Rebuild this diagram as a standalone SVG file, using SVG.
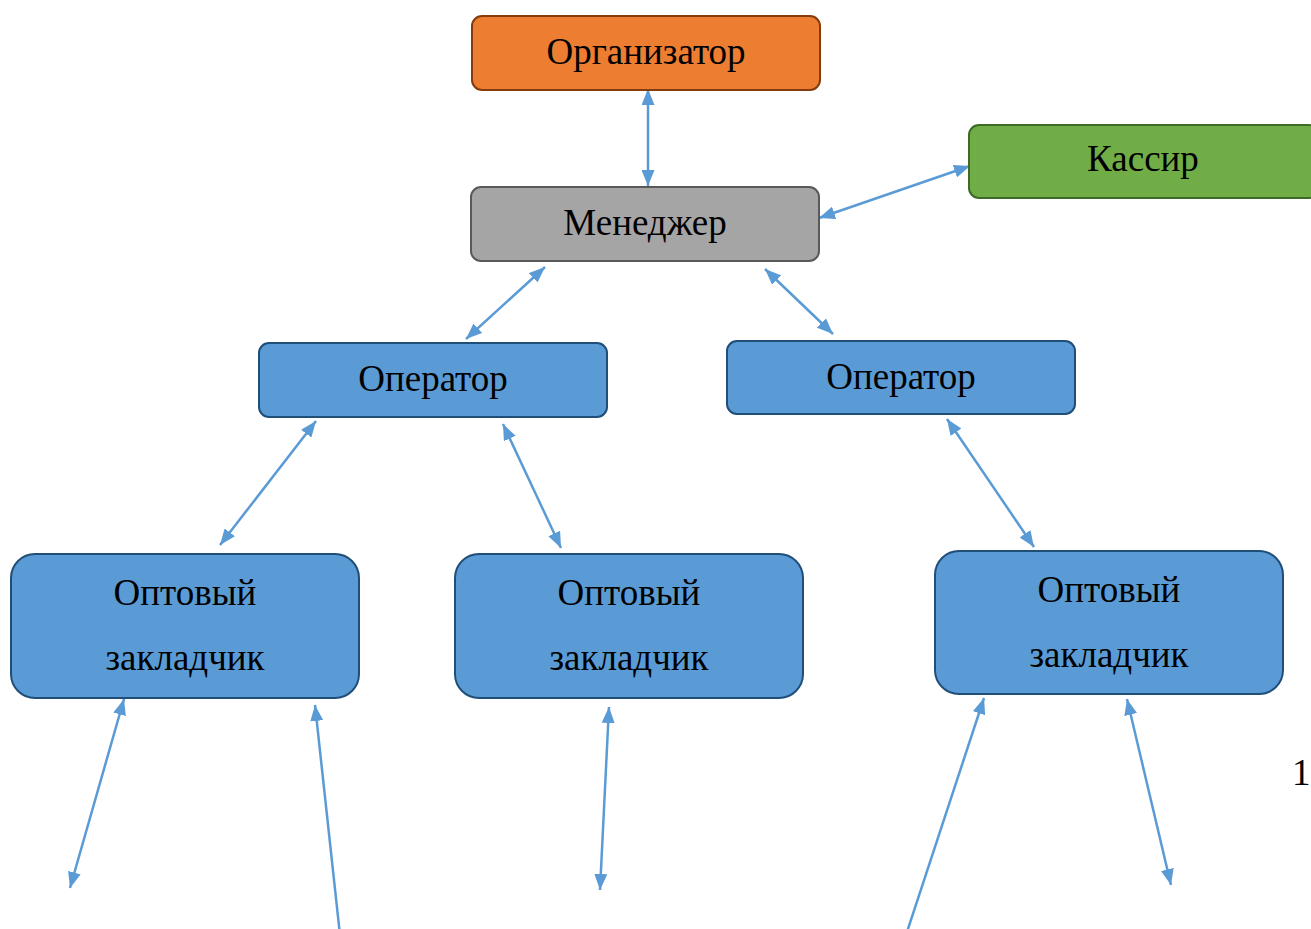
<svg xmlns="http://www.w3.org/2000/svg" width="1311" height="929" viewBox="0 0 1311 929">
<style>
text{font-family:"Liberation Serif","DejaVu Serif","Times New Roman",serif;font-size:37px;fill:#000;text-anchor:middle}
.c{stroke:#5B9BD5;stroke-width:2.5;fill:none;marker-end:url(#ah)}
.b{marker-start:url(#ah)}
.blue{fill:#5B9BD5;stroke:#1F4E79;stroke-width:2}
</style>
<defs>
<marker id="ah" viewBox="0 0 16 13" refX="16" refY="6.5" markerWidth="16" markerHeight="13" markerUnits="userSpaceOnUse" orient="auto-start-reverse">
<path d="M0,0L16,6.5L0,13z" fill="#5B9BD5"/>
</marker>
</defs>
<rect width="1311" height="929" fill="#fff"/>
<g id="connectors">
<line class="c b" x1="648" y1="89" x2="648" y2="186"/>
<line class="c b" x1="819" y1="218" x2="970" y2="166"/>
<line class="c b" x1="545" y1="267" x2="466" y2="339"/>
<line class="c b" x1="765" y1="269" x2="833" y2="334"/>
<line class="c b" x1="316" y1="421" x2="220" y2="545"/>
<line class="c b" x1="503" y1="424" x2="561" y2="548"/>
<line class="c b" x1="947" y1="419" x2="1034" y2="547"/>
<line class="c b" x1="124" y1="699" x2="70" y2="888"/>
<line class="c" x1="340" y1="935" x2="315" y2="705"/>
<line class="c b" x1="609" y1="707" x2="600" y2="890"/>
<line class="c" x1="906" y1="935" x2="984" y2="698"/>
<line class="c b" x1="1127" y1="699" x2="1171" y2="885"/>
</g>
<g id="organizer">
<rect x="472" y="16" width="348" height="74" rx="10" fill="#ED7D31" stroke="#843C0C" stroke-width="2"/>
<text x="646" y="64">Организатор</text>
</g>
<g id="cashier">
<rect x="969" y="125" width="350" height="73" rx="10" fill="#70AD47" stroke="#3E6A28" stroke-width="2"/>
<text x="1143" y="171">Кассир</text>
</g>
<g id="manager">
<rect x="471" y="187" width="348" height="74" rx="10" fill="#A5A5A5" stroke="#595959" stroke-width="2"/>
<text x="645" y="235">Менеджер</text>
</g>
<g id="operator1">
<rect class="blue" x="259" y="343" width="348" height="74" rx="10"/>
<text x="433" y="391">Оператор</text>
</g>
<g id="operator2">
<rect class="blue" x="727" y="341" width="348" height="73" rx="10"/>
<text x="901" y="389">Оператор</text>
</g>
<g id="wholesale1">
<rect class="blue" x="11" y="554" width="348" height="144" rx="24"/>
<text x="185" y="605">Оптовый</text>
<text x="185" y="670">закладчик</text>
</g>
<g id="wholesale2">
<rect class="blue" x="455" y="554" width="348" height="144" rx="24"/>
<text x="629" y="605">Оптовый</text>
<text x="629" y="670">закладчик</text>
</g>
<g id="wholesale3">
<rect class="blue" x="935" y="551" width="348" height="143" rx="24"/>
<text x="1109" y="602">Оптовый</text>
<text x="1109" y="667">закладчик</text>
</g>
<text x="1292" y="785" style="text-anchor:start">1</text>
</svg>
